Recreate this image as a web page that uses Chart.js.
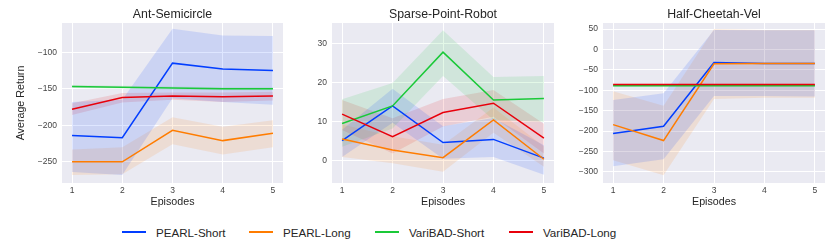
<!DOCTYPE html>
<html><head><meta charset="utf-8">
<script src="https://cdn.jsdelivr.net/npm/chart.js@4/dist/chart.umd.min.js"></script>
<style>
html,body{margin:0;padding:0;background:#fff;}
#wrap{position:relative;width:830px;height:245px;overflow:hidden;font-family:"Liberation Sans",Arial,sans-serif;}
.pane{position:absolute;top:0;height:210px;}
.leg{position:absolute;top:223px;height:18px;display:flex;align-items:center;font-size:11.6px;color:#262626;white-space:nowrap;}
.leg span.ln{display:inline-block;width:24px;height:2px;margin-right:10px;}
</style></head>
<body>
<div id="wrap">
  <div class="pane" style="left:0;width:290px"><canvas id="c1"></canvas></div>
  <div class="pane" style="left:290px;width:270px"><canvas id="c2"></canvas></div>
  <div class="pane" style="left:560px;width:270px"><canvas id="c3"></canvas></div>
  <div id="legend"></div>
</div>
<script>
// ---------- data ----------
const episodes = [1, 2, 3, 4, 5];
const seriesNames = ["PEARL-Short", "PEARL-Long", "VariBAD-Short", "VariBAD-Long"];
const seriesColors = ["#023EFF", "#FF7C00", "#1AC938", "#E8000B"];
const bandColors = ["rgba(2,62,255,0.13)", "rgba(255,124,0,0.12)", "rgba(26,201,56,0.12)", "rgba(232,0,11,0.12)"];

// Ant-Semicircle
const antPearlShort   = [-214, -217, -115, -123, -125];
const antPearlShortHi = [-168, -165, -68, -77, -78];
const antPearlShortLo = [-264, -268, -163, -168, -172];
const antPearlLong    = [-250, -250, -207, -221, -211];
const antPearlLongHi  = [-233, -230, -189, -202, -193];
const antPearlLongLo  = [-268, -267, -226, -240, -230];
const antVariShort    = [-147, -148, -149, -150, -150];
const antVariShortHi  = [-145, -146, -147, -148, -148];
const antVariShortLo  = [-149, -150, -151, -152, -152];
const antVariLong     = [-178, -162, -160, -161, -160];
const antVariLongHi   = [-170, -156, -155, -155, -154];
const antVariLongLo   = [-186, -169, -165, -168, -166];
const antTicks = [-250, -200, -150, -100];

// Sparse-Point-Robot
const sprPearlShort   = [5.2, 14.1, 4.7, 5.5, 0.7];
const sprPearlShortHi = [8.0, 18.5, 8.9, 11.0, 4.0];
const sprPearlShortLo = [1.0, 9.8, 0.5, 1.0, -3.6];
const sprPearlLong    = [5.6, 2.8, 0.8, 10.5, 0.4];
const sprPearlLongHi  = [9.3, 6.3, 4.1, 13.7, 3.7];
const sprPearlLongLo  = [1.0, -0.6, -2.8, 7.2, -1.5];
const sprVariShort    = [9.6, 14.1, 27.9, 15.6, 16.0];
const sprVariShortHi  = [15.8, 20.0, 33.5, 21.5, 21.8];
const sprVariShortLo  = [3.6, 8.3, 21.8, 10.5, 10.0];
const sprVariLong     = [12.0, 6.2, 12.4, 14.8, 5.8];
const sprVariLongHi   = [15.6, 10.9, 15.9, 18.2, 9.5];
const sprVariLongLo   = [7.9, 1.9, 8.8, 11.3, 1.9];
const sprTicks = [0, 10, 20, 30];

// Half-Cheetah-Vel
const hcvPearlShort   = [-206, -188, -32, -34, -34];
const hcvPearlShortHi = [-124, -107, 48, 47, 47];
const hcvPearlShortLo = [-286, -269, -114, -114, -115];
const hcvPearlLong    = [-184, -223, -35, -34, -34];
const hcvPearlLongHi  = [-102, -138, 50, 48, 48];
const hcvPearlLongLo  = [-271, -308, -121, -118, -118];
const hcvVariShort    = [-89, -89, -89, -89, -89];
const hcvVariShortHi  = [-87, -87, -87, -87, -87];
const hcvVariShortLo  = [-91, -91, -91, -91, -91];
const hcvVariLong     = [-86, -86, -86, -86, -86];
const hcvVariLongHi   = [-84, -84, -84, -84, -84];
const hcvVariLongLo   = [-88, -88, -88, -88, -88];
const hcvTicks = [-300, -250, -200, -150, -100, -50, 0, 50];

// ---------- helpers ----------
const FONT = "'Liberation Sans', Arial, sans-serif";
const pts = arr => arr.map((v, i) => ({x: episodes[i], y: v}));

const bgPlugin = {
  id: 'bg',
  beforeDraw(chart) {
    const {ctx, chartArea: a} = chart;
    ctx.save();
    ctx.fillStyle = '#EAEAF2';
    ctx.fillRect(a.left, a.top, a.right - a.left, a.bottom - a.top);
    ctx.restore();
  }
};

function makeChart(id, title, series, yMin, yMax, yTicks, yWidth, rightPad, showYTitle) {
  const datasets = [];
  // bands
  series.forEach((s, k) => {
    datasets.push({data: pts(s.hi), borderWidth: 0, pointRadius: 0, fill: false, backgroundColor: bandColors[k], order: 10});
    datasets.push({data: pts(s.lo), borderWidth: 0, pointRadius: 0, fill: '-1', backgroundColor: bandColors[k], order: 10});
  });
  // lines
  const lineOrder = [4, 3, 2, 1];
  series.forEach((s, k) => {
    datasets.push({data: pts(s.mean), borderColor: seriesColors[k], borderWidth: 1.5, pointRadius: 0, fill: false, order: lineOrder[k]});
  });
  return new Chart(document.getElementById(id), {
    type: 'line',
    data: {datasets},
    plugins: [bgPlugin],
    options: {
      responsive: true, maintainAspectRatio: false, animation: false,
      layout: {padding: {left: 0, right: rightPad, top: 0, bottom: 0}},
      plugins: {
        legend: {display: false}, tooltip: {enabled: false},
        filler: {drawTime: 'beforeDatasetsDraw'},
        title: {display: true, fullSize: false, text: title, color: '#262626', font: {family: FONT, size: 12.3, weight: 'normal'}, padding: {top: 7, bottom: 1.2}}
      },
      scales: {
        x: {
          type: 'linear', min: 0.8, max: 5.2,
          afterBuildTicks: sc => { sc.ticks = episodes.map(v => ({value: v})); },
          afterFit: sc => { sc.height = 27; },
          grid: {color: '#FFFFFF', lineWidth: 1, drawTicks: false},
          border: {display: false},
          ticks: {color: '#444', font: {family: FONT, size: 8.5}, padding: 3, maxRotation: 0},
          title: {display: true, text: 'Episodes', color: '#262626', font: {family: FONT, size: 10.7}, padding: {top: 0, bottom: 1.5}}
        },
        y: {
          type: 'linear', min: yMin, max: yMax,
          afterBuildTicks: sc => { sc.ticks = yTicks.map(v => ({value: v})); },
          afterFit: sc => { sc.width = yWidth; },
          grid: {color: '#FFFFFF', lineWidth: 1, drawTicks: false},
          border: {display: false},
          ticks: {color: '#444', font: {family: FONT, size: 8.5}, padding: 5,
                  callback: v => (v < 0 ? '\u2212' + Math.abs(v) : String(v))},
          title: {display: showYTitle, text: 'Average Return', color: '#262626', font: {family: FONT, size: 10.7}, padding: {top: 14.5, bottom: 0}}
        }
      }
    }
  });
}

makeChart('c1', 'Ant-Semicircle', [
  {mean: antPearlShort, hi: antPearlShortHi, lo: antPearlShortLo},
  {mean: antPearlLong, hi: antPearlLongHi, lo: antPearlLongLo},
  {mean: antVariShort, hi: antVariShortHi, lo: antVariShortLo},
  {mean: antVariLong, hi: antVariLongHi, lo: antVariLongLo}
], -279, -60, antTicks, 62, 7, true);

makeChart('c2', 'Sparse-Point-Robot', [
  {mean: sprPearlShort, hi: sprPearlShortHi, lo: sprPearlShortLo},
  {mean: sprPearlLong, hi: sprPearlLongHi, lo: sprPearlLongLo},
  {mean: sprVariShort, hi: sprVariShortHi, lo: sprVariShortLo},
  {mean: sprVariLong, hi: sprVariLongHi, lo: sprVariLongLo}
], -5.7, 35.4, sprTicks, 42, 6, false);

makeChart('c3', 'Half-Cheetah-Vel', [
  {mean: hcvPearlShort, hi: hcvPearlShortHi, lo: hcvPearlShortLo},
  {mean: hcvPearlLong, hi: hcvPearlLongHi, lo: hcvPearlLongLo},
  {mean: hcvVariShort, hi: hcvVariShortHi, lo: hcvVariShortLo},
  {mean: hcvVariLong, hi: hcvVariLongHi, lo: hcvVariLongLo}
], -327, 65, hcvTicks, 43, 5, false);

// ---------- legend ----------
const legendLefts = [122, 249, 375, 509];
const legendEl = document.getElementById('legend');
seriesNames.forEach((name, k) => {
  const d = document.createElement('div');
  d.className = 'leg';
  d.style.left = legendLefts[k] + 'px';
  const ln = document.createElement('span');
  ln.className = 'ln';
  ln.style.background = seriesColors[k];
  d.appendChild(ln);
  d.appendChild(document.createTextNode(name));
  legendEl.appendChild(d);
});
</script>
</body></html>
